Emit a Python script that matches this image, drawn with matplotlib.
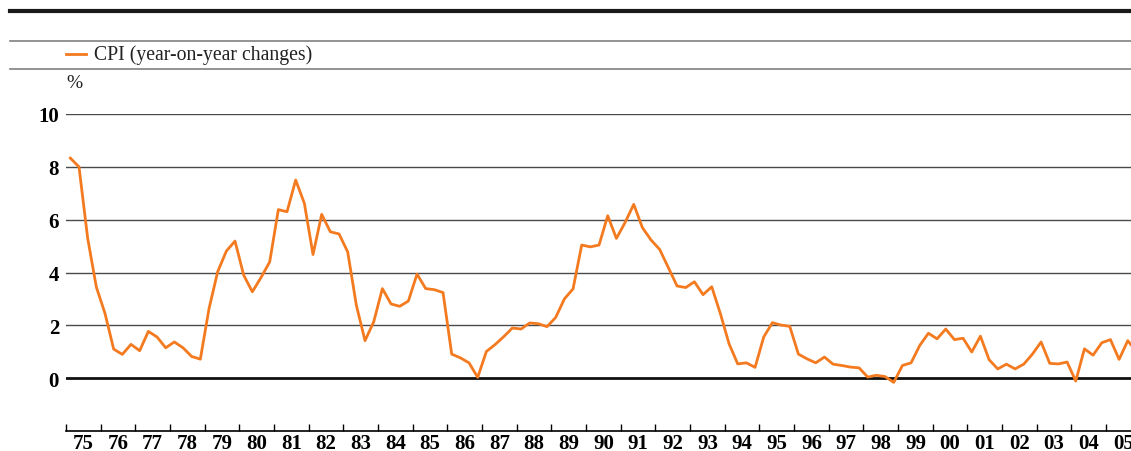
import numpy as np
import matplotlib
matplotlib.use('Agg')
import matplotlib.pyplot as plt
from matplotlib.lines import Line2D

plt.rcParams['font.family'] = ['Liberation Serif', 'DejaVu Serif']

# quarterly CPI, year-on-year % change, 1975Q1 - 2005Q4
cpi_yoy = [
    8.33, 8.00, 5.30, 3.45,   # 75
    2.45, 1.10, 0.90, 1.28,   # 76
    1.04, 1.77, 1.56, 1.15,   # 77
    1.37, 1.15, 0.82, 0.72,   # 78
    2.63, 4.03, 4.81, 5.19,   # 79
    3.90, 3.27, 3.81, 4.40,   # 80
    6.38, 6.30, 7.50, 6.62,   # 81
    4.68, 6.20, 5.54, 5.46,   # 82
    4.78, 2.76, 1.42, 2.13,   # 83
    3.39, 2.81, 2.72, 2.92,   # 84
    3.94, 3.39, 3.35, 3.24,   # 85
    0.91, 0.77, 0.58, 0.03,   # 86
    1.01, 1.27, 1.57, 1.90,   # 87
    1.86, 2.09, 2.06, 1.95,   # 88
    2.30, 3.00, 3.38, 5.04,   # 89
    4.97, 5.04, 6.15, 5.29,   # 90
    5.89, 6.58, 5.70, 5.23,   # 91
    4.87, 4.18, 3.49, 3.43,   # 92
    3.65, 3.16, 3.46, 2.44,   # 93
    1.30, 0.54, 0.58, 0.41,   # 94
    1.56, 2.10, 2.01, 1.96,   # 95
    0.91, 0.73, 0.58, 0.80,   # 96
    0.53, 0.48, 0.42, 0.39,   # 97
    0.04, 0.11, 0.06, -0.16,  # 98
    0.48, 0.58, 1.24, 1.70,   # 99
    1.49, 1.86, 1.46, 1.51,   # 00
    0.99, 1.59, 0.70, 0.35,   # 01
    0.53, 0.35, 0.53, 0.91,   # 02
    1.37, 0.56, 0.54, 0.61,   # 03
    -0.11, 1.11, 0.87, 1.34,  # 04
    1.46, 0.71, 1.42, 1.00,   # 05
]
first_year = 1975
years = list(range(1975, 2006))
year_labels = [str(y)[-2:] for y in years]
y_ticks = [0, 2, 4, 6, 8, 10]

orange = '#f47a20'
quarters = first_year + (np.arange(len(cpi_yoy)) + 0.5) / 4

fig = plt.figure(figsize=(11.31, 4.52), dpi=100)
ax = fig.add_axes([66 / 1131, 1 - 432 / 452, 1 - 66 / 1131, 317 / 452])

for v in y_ticks[1:]:
    ax.axhline(v, color='#4a4a4a', lw=1.0, zorder=1)
ax.axhline(0, color='#111111', lw=2.0, zorder=2)
ax.plot(quarters, cpi_yoy, color=orange, lw=2.0, zorder=3)

ax.set_xlim(1975, 1975 + (1131 - 66) / 34.67)
ax.set_ylim(-2, 10)
for s in ['top', 'right', 'left']:
    ax.spines[s].set_visible(False)
ax.spines['bottom'].set_linewidth(1.2)

ax.set_xticks(years)
ax.set_xticklabels([])
ax.set_xticks(np.array(years) + 0.5, minor=True)
ax.set_xticklabels(year_labels, minor=True, fontsize=15, fontweight='bold')
ax.tick_params(axis='x', which='major', direction='in', length=5, width=1)
ax.tick_params(axis='x', which='minor', length=0, pad=1.5)

ax.set_yticks(y_ticks)
ax.set_yticklabels([str(v) for v in y_ticks], fontsize=15, fontweight='bold')
ax.tick_params(axis='y', length=0, pad=5)

# header rules and legend
fig.add_artist(Line2D([10 / 1131, 1], [1 - 12 / 452] * 2, color='#1a1a1a', lw=3.0))
fig.add_artist(Line2D([10 / 1131, 1], [1 - 42 / 452] * 2, color='#808080', lw=1.2))
fig.add_artist(Line2D([10 / 1131, 1], [1 - 70 / 452] * 2, color='#808080', lw=1.2))
fig.add_artist(Line2D([66 / 1131, 86 / 1131], [1 - 55 / 452] * 2, color=orange, lw=2.0))
fig.text(94 / 1131, 1 - 55 / 452, 'CPI (year-on-year changes)', fontsize=14.2,
         va='center', ha='left', color='#222222')
fig.text(66 / 1131, 1 - 84 / 452, '%', fontsize=14, va='center', ha='left',
         color='#222222')

fig.savefig('out.png', dpi=100)
